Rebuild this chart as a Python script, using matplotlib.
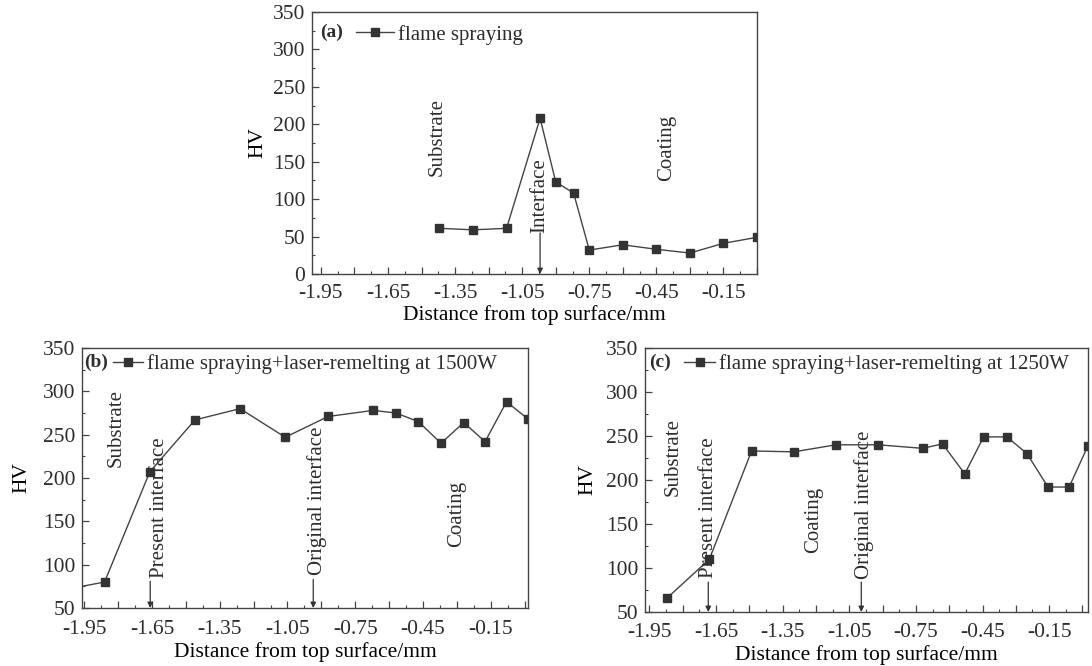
import numpy as np
import matplotlib
matplotlib.use("Agg")
import matplotlib.pyplot as plt
from matplotlib.ticker import FixedLocator, FixedFormatter, MultipleLocator

# データ (読み取り値)
x_a = [-1.42, -1.27, -1.12, -0.97, -0.90, -0.82, -0.75, -0.60, -0.45, -0.30, -0.15, 0.00]
hv_a = [61, 59, 61, 208, 123, 108, 32, 39, 33, 28, 41, 49]

x_b = [-2.06, -1.86, -1.66, -1.46, -1.26, -1.06, -0.87, -0.67, -0.57, -0.47, -0.37, -0.27, -0.175, -0.08, 0.015]
hv_b = [70, 80, 207, 267, 280, 247, 271, 278, 275, 265, 240, 264, 242, 288, 268]

x_c = [-1.87, -1.68, -1.49, -1.30, -1.11, -0.92, -0.72, -0.63, -0.53, -0.445, -0.34, -0.25, -0.155, -0.06, 0.025]
hv_c = [66, 110, 233, 232, 240, 240, 236, 241, 207, 249, 249, 230, 192, 192, 239]

labels = ["flame spraying",
          "flame spraying+laser-remelting at 1500W",
          "flame spraying+laser-remelting at 1250W"]

xtick_labels = ["-1.95", "-1.65", "-1.35", "-1.05", "-0.75", "-0.45", "-0.15"]

plt.rcParams['font.family'] = ['Liberation Serif', 'DejaVu Serif']
INK = '#2e2e2e'
plt.rcParams['text.color'] = INK
plt.rcParams['axes.edgecolor'] = '#444444'
plt.rcParams['xtick.color'] = '#444444'
plt.rcParams['ytick.color'] = '#444444'
plt.rcParams['xtick.labelcolor'] = INK
plt.rcParams['ytick.labelcolor'] = INK

W, H = 1092, 666
fig = plt.figure(figsize=(W / 100, H / 100), dpi=100)


def px_axes(left, right, top, bottom):
    return fig.add_axes([left / W, (H - bottom) / H, (right - left) / W, (bottom - top) / H])


def style_axes(ax, xlim, ylim, ymin_tick, ylabelpad, xpad):
    ax.set_xlim(*xlim)
    ax.set_ylim(*ylim)
    major = np.round(np.arange(-1.95, 0.01, 0.15), 2)
    names = []
    for i, v in enumerate(major):
        names.append(xtick_labels[i // 2] if i % 2 == 0 else "")
    ax.xaxis.set_major_locator(FixedLocator(major))
    ax.xaxis.set_major_formatter(FixedFormatter(names))
    ax.xaxis.set_minor_locator(FixedLocator(np.round(np.arange(-2.025, 0.05, 0.15), 3)))
    ax.yaxis.set_major_locator(FixedLocator(np.arange(ymin_tick, 351, 50)))
    ax.yaxis.set_minor_locator(MultipleLocator(25))
    ax.tick_params(direction='in', which='major', length=5, width=0.9, labelsize=15.5)
    ax.tick_params(axis='x', which='major', pad=xpad)
    ax.tick_params(axis='y', which='major', pad=5)
    ax.tick_params(direction='in', which='minor', length=2.5, width=0.8)
    ax.tick_params(top=False, right=False)
    for s in ax.spines.values():
        s.set_linewidth(1.0)
    ax.set_xlabel("Distance from top surface/mm", fontsize=15.5, labelpad=2)
    ax.set_ylabel("HV", fontsize=15.5, labelpad=ylabelpad)


def vtext(ax, x, y, s):
    ax.text(x, y, s, rotation=90, ha='center', va='center', fontsize=15, color=INK)


def arrow(ax, x, y0, y1):
    ax.annotate('', xy=(x, y1), xytext=(x, y0),
                arrowprops=dict(arrowstyle='-|>', color='#333333', lw=0.9,
                                mutation_scale=8, shrinkA=0, shrinkB=0))


def add_legend(ax, tag, tag_x, tag_y, leg_x, leg_y, hlen):
    ax.text(tag_x, tag_y, tag, transform=ax.transAxes, fontsize=14, fontweight='bold',
            ha='left', va='center')
    ax.legend(loc='upper left', bbox_to_anchor=(leg_x, leg_y), frameon=False, fontsize=15,
              handlelength=hlen, handletextpad=0.2, borderpad=0.3, borderaxespad=0)


line_kw = dict(color='#444444', lw=1.0, marker='s', markersize=5.8,
               markerfacecolor='#333333', markeredgecolor='#333333')

# (a)
ax_a = px_axes(312, 757, 12, 274)
ax_a.plot(x_a, hv_a, label=labels[0], **line_kw)
style_axes(ax_a, (-1.99, 0.0), (0, 350), 0, 4, 7)
add_legend(ax_a, "(a)", 0.018, 0.924, 0.085, 0.975, 1.8)
vtext(ax_a, -1.43, 183, "Substrate")
vtext(ax_a, -0.97, 105, "Interface")
vtext(ax_a, -0.405, 168, "Coating")
arrow(ax_a, -0.97, 55, 0)

# (b)
ax_b = px_axes(82, 528, 348, 608)
ax_b.plot(x_b, hv_b, label=labels[1], **line_kw)
style_axes(ax_b, (-1.96, 0.015), (50, 350), 50, 8, 9)
add_legend(ax_b, "(b)", 0.005, 0.945, 0.055, 1.0, 1.45)
vtext(ax_b, -1.81, 258, "Substrate")
vtext(ax_b, -1.615, 166, "Present interface")
vtext(ax_b, -0.92, 174, "Original interface")
vtext(ax_b, -0.30, 158, "Coating")
arrow(ax_b, -1.658, 81, 50)
arrow(ax_b, -0.936, 83, 50)

# (c)
ax_c = px_axes(645, 1088, 348, 612)
ax_c.plot(x_c, hv_c, label=labels[2], **line_kw)
style_axes(ax_c, (-1.97, 0.025), (50, 350), 50, 6, 8)
add_legend(ax_c, "(c)", 0.01, 0.945, 0.075, 1.0, 1.45)
vtext(ax_c, -1.845, 226, "Substrate")
vtext(ax_c, -1.685, 168, "Present interface")
vtext(ax_c, -1.21, 155, "Coating")
vtext(ax_c, -0.985, 172, "Original interface")
arrow(ax_c, -1.685, 84, 50)
arrow(ax_c, -0.996, 84, 50)

fig.savefig("out.png", dpi=100)
